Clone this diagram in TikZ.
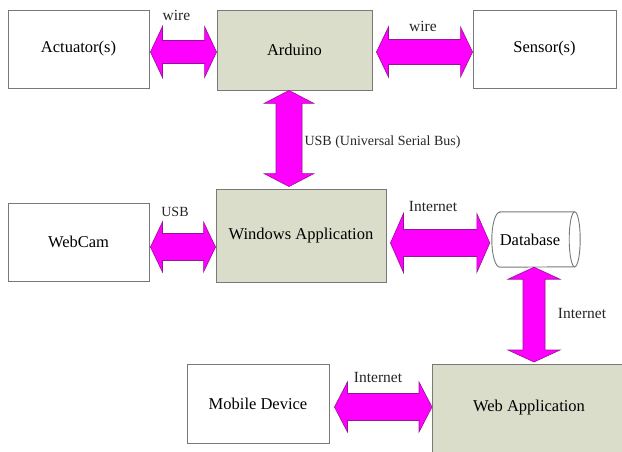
\documentclass[tikz,border=0pt]{standalone}
\usepackage{fontspec}
\setmainfont{Liberation Serif}
\usetikzlibrary{calc}
\definecolor{boxgreen}{RGB}{218,221,201}
\definecolor{boxline}{RGB}{120,120,120}
\definecolor{mag}{RGB}{255,0,255}
\definecolor{magline}{RGB}{150,20,150}
\tikzset{
  whitebox/.style={draw=boxline,line width=0.9pt,fill=white,inner sep=0pt,font=\fontsize{16.5}{18}\selectfont},
  greenbox/.style={whitebox,fill=boxgreen},
  cylline/.style={draw=boxline,line width=0.9pt},
  lbl/.style={inner sep=0pt,font=\fontsize{15.5}{17}\selectfont,text=black!85},
  lblsmall/.style={lbl,font=\fontsize{14}{16}\selectfont},
  dblarrow/.style={fill=mag,draw=magline,line width=0.6pt,line join=miter}
}
% horizontal double arrow: start, end, shaft half, head half, head length
\newcommand{\harrowx}[5]{%
  \path[dblarrow] let \p1=(#1), \p2=(#2) in
    (\x1,\y1) -- (\x1+#5,\y1+#4) -- (\x1+#5,\y1+#3) -- (\x2-#5,\y1+#3) -- (\x2-#5,\y1+#4)
    -- (\x2,\y1) -- (\x2-#5,\y1-#4) -- (\x2-#5,\y1-#3) -- (\x1+#5,\y1-#3) -- (\x1+#5,\y1-#4) -- cycle;}
% vertical double arrow: top start, bottom end
\newcommand{\varrowx}[5]{%
  \path[dblarrow] let \p1=(#1), \p2=(#2) in
    (\x1,\y1) -- (\x1+#4,\y1-#5) -- (\x1+#3,\y1-#5) -- (\x1+#3,\y2+#5) -- (\x1+#4,\y2+#5)
    -- (\x1,\y2) -- (\x1-#4,\y2+#5) -- (\x1-#3,\y2+#5) -- (\x1-#3,\y1-#5) -- (\x1-#4,\y1-#5) -- cycle;}
\begin{document}
\begin{tikzpicture}[x=1pt,y=-1pt]
\useasboundingbox (0,0) rectangle (622,452);
\clip (0,0) rectangle (622,452);
\fill[white] (0,0) rectangle (622,452);

\node[whitebox,minimum width=141pt,minimum height=78pt] (act) at (78.5,49) {Actuator(s)};
\node[greenbox,minimum width=155pt,minimum height=80pt] (ard) at (294.5,50) {Arduino};
\node[whitebox,minimum width=143pt,minimum height=78pt] (sen) at (544.5,49) {Sensor(s)};
\node[whitebox,minimum width=141pt,minimum height=78pt] (cam) at (78.5,242) {WebCam};
\node[greenbox,minimum width=170pt,minimum height=93pt] (win) at (301,235.5) {Windows Application};
\node[greenbox,minimum width=194pt,minimum height=94pt,anchor=north west] (web) at (432,364) {};
\node[inner sep=0pt,font=\fontsize{16.5}{18}\selectfont] (webtxt) at (529,408) {Web Application};
\node[whitebox,minimum width=142pt,minimum height=79pt] (mob) at (258,403.5) {Mobile Device};

% database cylinder
\node[inner sep=0pt,minimum width=88pt,minimum height=55pt] (db) at (536,239.5) {};
\draw[cylline,fill=white] ($(db.north west)+(8,0)$) -- ($(db.north east)+(-5.5,0)$)
   arc[start angle=270,end angle=450,x radius=5.5,y radius=27.5]
   -- ($(db.south west)+(8,0)$)
   arc[start angle=90,end angle=270,x radius=8,y radius=27.5] -- cycle;
\draw[cylline] ($(db.north east)+(-5.5,0)$) arc[start angle=270,end angle=90,x radius=5.5,y radius=27.5];
\node[inner sep=0pt,font=\fontsize{16.5}{18}\selectfont] (dbtxt) at (530,240) {Database};

\harrowx{$(act.east)+(1,3)$}{$(ard.west)$}{11.5}{25.5}{12}
\harrowx{$(ard.east)+(4,2)$}{$(sen.west)$}{12.5}{25}{12}
\varrowx{$(ard.south)+(-5.5,0)$}{$(win.north)+(0,-2)$}{13}{25}{13}
\harrowx{$(cam.east)+(1,5)$}{$(win.west)$}{13.5}{25}{12}
\harrowx{$(win.east)+(4,7.5)$}{$(db.west)+(-2,0)$}{13.5}{29.5}{13}
\varrowx{$(db.south)+(-2,0)$}{$(web.north)+(0,-2)$}{11}{26}{12}
\harrowx{$(mob.east)+(5,3.5)$}{$(web.west)$}{13.5}{25}{13}

\node[lbl] (w1) at (176.5,15) {wire};
\node[lbl] (w2) at (423,26) {wire};
\node[lblsmall] (usb1) at (382.5,142) {USB (Universal Serial Bus)};
\node[lblsmall] (usb2) at (175,212) {USB};
\node[lbl] (i1) at (433,207) {Internet};
\node[lbl] (i2) at (582,313) {Internet};
\node[lbl] (i3) at (378,377) {Internet};
\end{tikzpicture}
\end{document}
